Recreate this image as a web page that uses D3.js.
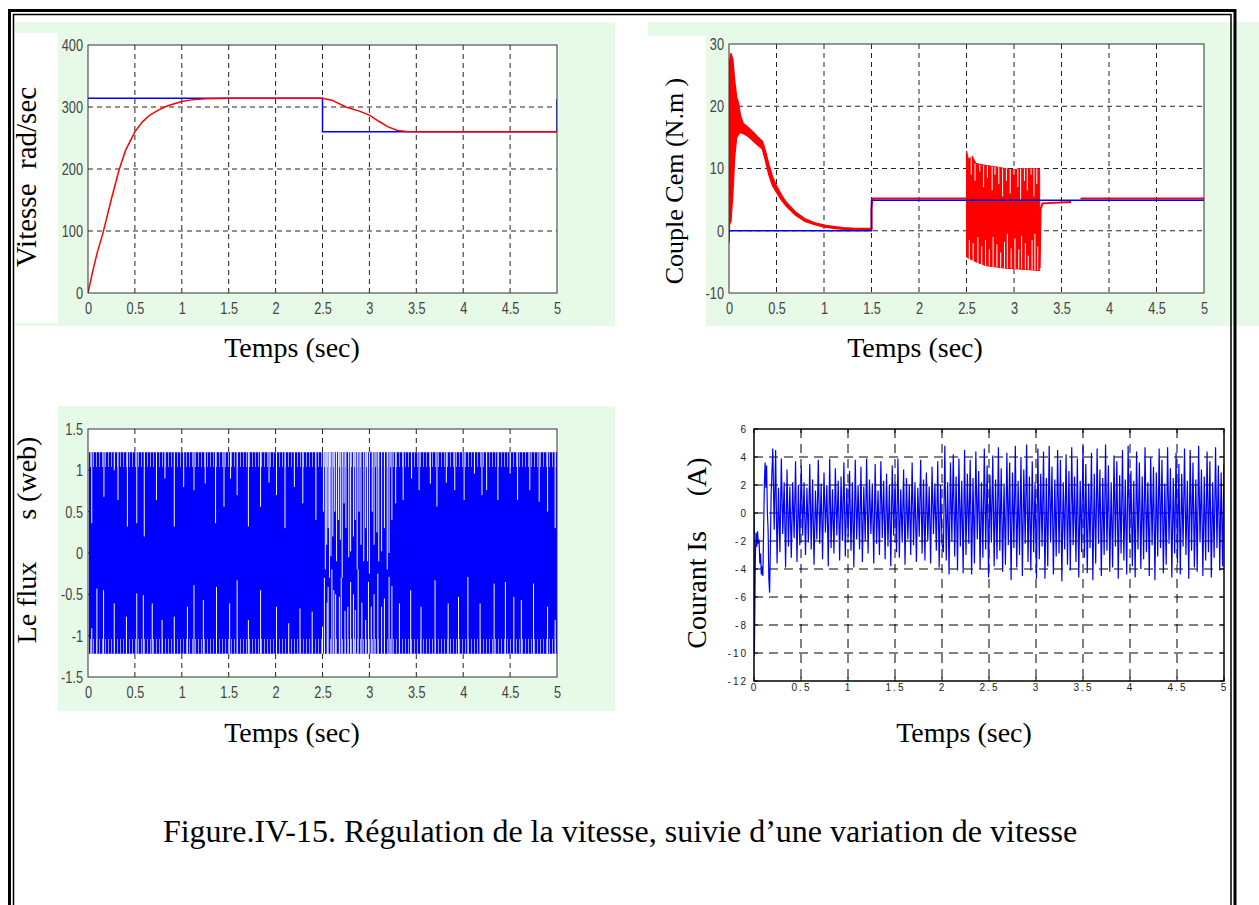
<!DOCTYPE html>
<html>
<head>
<meta charset="utf-8">
<script src="https://cdn.jsdelivr.net/npm/d3@7"></script>
<style>
  body { margin: 0; background: #fff; }
  svg { display: block; }
</style>
</head>
<body>
<svg id="fig" width="1259" height="905"></svg>
<script>
// ---------- data ----------
const timeTicks = [0, 0.5, 1, 1.5, 2, 2.5, 3, 3.5, 4, 4.5, 5];
const speedTicks = [0, 100, 200, 300, 400];
const torqueTicks = [-10, 0, 10, 20, 30];
const fluxTicks = [-1.5, -1, -0.5, 0, 0.5, 1, 1.5];
const currentTicks = [-12, -10, -8, -6, -4, -2, 0, 2, 4, 6];

// speed (rad/sec): reference (blue) and measured (red)
const speedRef = [[0, 314], [2.5, 314], [2.5, 260], [5, 260], [5, 313]];
const speedMeas = [[0, 0], [0.05, 35], [0.1, 66], [0.16, 97], [0.25, 152], [0.33, 198], [0.4, 230],
  [0.5, 260], [0.58, 276], [0.66, 287], [0.75, 295], [0.85, 302], [1.0, 309], [1.1, 311.5],
  [1.25, 313.5], [1.5, 314], [2.5, 314], [2.6, 311], [2.75, 300], [2.9, 293], [3.0, 287],
  [3.1, 277], [3.2, 268], [3.3, 262], [3.4, 260.5], [3.5, 260], [5, 260]];

// torque Cem (N.m): start-up noisy band, later line pieces, burst between 2.5 and 3.27 s
const torqueStartHi = [[0, -2], [0.005, 27], [0.02, 28.5], [0.04, 27.5], [0.06, 24], [0.08, 21.5],
  [0.1, 20.5], [0.12, 18.5], [0.15, 17.2], [0.2, 16.6], [0.25, 15.9], [0.3, 15.1], [0.35, 14.4],
  [0.38, 13], [0.42, 10.6], [0.46, 8.6], [0.5, 7.2], [0.55, 5.8], [0.6, 4.6], [0.7, 3.0],
  [0.8, 1.9], [0.9, 1.3], [1.0, 0.9], [1.1, 0.7], [1.2, 0.5], [1.3, 0.4], [1.5, 0.35]];
const torqueStartLo = [[0, -2], [0.005, 1], [0.02, 1.5], [0.04, 6], [0.06, 12], [0.08, 15],
  [0.1, 15.5], [0.12, 15.8], [0.15, 15.6], [0.2, 15.2], [0.25, 14.5], [0.3, 13.8], [0.35, 13.2],
  [0.38, 11.5], [0.42, 9], [0.46, 7.2], [0.5, 6.2], [0.55, 5], [0.6, 4.0], [0.7, 2.5],
  [0.8, 1.5], [0.9, 1.0], [1.0, 0.6], [1.1, 0.4], [1.2, 0.25], [1.3, 0.15], [1.5, 0.1]];
const torqueLoadStep = [[1.5, 0.3], [1.5, 3.5], [1.51, 5.2], [2.5, 5.2]];
const torqueAfterBurst = [[3.27, -6], [3.28, 3.5], [3.3, 4.4], [3.6, 4.6]];
const torqueEnd = [[3.7, 5.2], [5, 5.2]];
// burst envelope: [t, low, high]
const burstEnvelope = [[2.5, -4.2, 12.8], [2.52, -4.4, 11.5], [2.56, -4.7, 12], [2.6, -5, 10.8],
  [2.7, -5.6, 10.5], [2.8, -5.8, 10.3], [2.9, -6, 10], [3.0, -6.1, 9.8], [3.1, -6.2, 10],
  [3.2, -6.3, 10], [3.27, -6.4, 9.9]];
// visible white gaps inside the burst: [t, from, to]
const burstGaps = [[2.53, -5, -1.5], [2.57, -5, -2], [2.62, -5.2, -1], [2.66, -5.5, -2.5],
  [2.7, -5.6, -1.5], [2.74, -5.6, -3], [2.78, -5.8, -1], [2.82, -5.8, -2.2], [2.86, -5.9, -3.5],
  [2.9, -6, -1.8], [2.93, -6, -0.5], [2.97, -6, -2.8], [3.01, -6.1, -1.2], [3.05, -6.1, -3],
  [3.08, -6.1, -0.8], [3.12, -6.2, -2], [3.15, -6.2, -4], [3.19, -6.3, -1.5], [3.22, -6.3, -0.5],
  [3.25, -6.3, -2.5],
  [2.55, 9, 12], [2.59, 8, 10.8], [2.64, 9.5, 10.6], [2.68, 7, 10.5], [2.72, 8.5, 10.4],
  [2.77, 6.5, 10.3], [2.8, 9, 10.3], [2.84, 7.5, 10.2], [2.88, 5.5, 10], [2.92, 8, 10],
  [2.96, 6, 9.9], [3.0, 9, 9.8], [3.04, 7, 10], [3.07, 5, 10], [3.11, 8, 10], [3.14, 6.5, 10],
  [3.18, 9, 10], [3.21, 5.5, 10], [3.24, 7.5, 10]];
const torqueRef = [[0, 0], [1.5, 0], [1.5, 4.9], [5, 4.9]];

// stator flux (web): oscillation band, lighter striped edges, white notches from top / bottom
const fluxBand = [[0.01, -1.22, 1.22], [5, -1.22, 1.22]];
const fluxStripeZones = [[0.01, 5, 1.04, 1.22], [0.01, 5, -1.22, -1.04]];
const fluxTopNotches = [[0.04, 0.36], [0.17, 0.68], [0.28, 1.0], [0.32, 0.64], [0.42, 0.32],
  [0.52, 0.36], [0.6, 0.2], [0.73, 0.64], [0.82, 0.9], [0.92, 0.32], [1.02, 0.8], [1.13, 0.76],
  [1.25, 0.84], [1.36, 0.36], [1.45, 0.56], [1.52, 0.9], [1.59, 0.7], [1.71, 0.32], [1.84, 0.56],
  [1.93, 0.85], [2.01, 0.7], [2.1, 0.3], [2.2, 0.8], [2.29, 0.6], [2.43, 0.4],
  [2.51, 0.5], [2.53, -0.2], [2.545, 0.1], [2.56, 0.3], [2.575, -0.3], [2.59, -0.04], [2.61, 0.2],
  [2.63, 0.5], [2.65, -0.1], [2.67, 0.4], [2.69, 0.16], [2.71, -0.3], [2.73, 0.6], [2.75, 0.3],
  [2.78, -0.05], [2.8, 0.02], [2.83, 0.2], [2.85, 0.4], [2.87, -0.2], [2.89, 0.5], [2.91, 0.1],
  [2.94, -0.1], [2.96, 0.3], [2.98, -0.1], [3.0, -0.25], [3.03, 0.5], [3.05, 0.1], [3.08, 0.25],
  [3.1, -0.1], [3.13, 0.02], [3.16, 0.3], [3.19, -0.2], [3.21, 0.0], [3.24, 0.4], [3.28, 0.6],
  [3.36, 0.64], [3.45, 0.9], [3.53, 0.76], [3.65, 0.84], [3.72, 0.56], [3.82, 0.85], [3.91, 0.76],
  [4.01, 0.64], [4.12, 0.96], [4.2, 0.7], [4.25, 0.76], [4.37, 0.64], [4.5, 0.96], [4.58, 0.64],
  [4.71, 0.76], [4.81, 0.62], [4.9, 0.5], [4.98, 0.3]];
const fluxBottomNotches = [[0.04, -0.91], [0.095, -0.43], [0.166, -0.45], [0.28, -0.61],
  [0.41, -0.77], [0.52, -0.49], [0.59, -0.51], [0.685, -0.61], [0.79, -0.81], [0.92, -0.77],
  [1.06, -0.65], [1.13, -0.39], [1.23, -0.57], [1.37, -0.41], [1.51, -0.61], [1.59, -0.33],
  [1.71, -0.81], [1.84, -0.45], [2.01, -0.65], [2.14, -0.85], [2.26, -0.67], [2.39, -0.71],
  [2.5, -0.89], [2.52, -0.3], [2.55, -0.6], [2.56, -0.41], [2.6, -0.2], [2.62, -0.45],
  [2.64, -0.5], [2.68, -0.53], [2.7, -0.3], [2.74, -0.7], [2.77, -0.65], [2.8, -0.35],
  [2.83, -0.5], [2.85, -0.69], [2.88, -0.2], [2.92, -0.6], [2.96, -0.81], [2.99, -0.35],
  [3.02, -0.65], [3.05, -0.5], [3.09, -0.25], [3.13, -0.65], [3.16, -0.55], [3.21, -0.29],
  [3.24, -0.4], [3.32, -0.61], [3.44, -0.45], [3.55, -0.65], [3.7, -0.33], [3.84, -0.61],
  [3.95, -0.53], [4.05, -0.29], [4.18, -0.61], [4.33, -0.37], [4.45, -0.35], [4.54, -0.53],
  [4.62, -0.57], [4.75, -0.37], [4.9, -0.65], [4.98, -0.81]];

// stator current (A): start transient, then successive extrema sampled evenly over two spans
const currentStart = [[0, 0], [0.004, -10.2], [0.008, -7.5], [0.014, -3.2], [0.022, -1.4],
  [0.03, -2.4], [0.038, -1.3], [0.046, -2.2], [0.054, -1.9], [0.062, -3.6], [0.07, -2.9],
  [0.078, -4.4], [0.086, -3.8], [0.094, -4.5], [0.1, -2.2], [0.11, 1.9], [0.118, 3.6],
  [0.126, 1.8], [0.134, 3.4], [0.142, 0.1], [0.15, -1.2], [0.158, -4.7], [0.166, -5.7],
  [0.174, -2.5], [0.182, 1.2]];
const currentSpanA = [0.2, 2.0];
const currentA = [4.6, -1.2, 4.5, -3.6, 1.8, -2.8, 3.9, -1.5, 2.2, -3.9, 3.1, -2.4, 1.9, -3.2, 2.2,
  -1.8, 3.7, -3.5, 2.0, -2.3, 3.4, -1.6, 2.2, -3.0, 1.8, -2.1, 3.5, -2.6, 2.4, -3.7, 1.6, -1.9,
  3.8, -2.2, 2.1, -3.3, 2.9, -1.4, 2.0, -3.8, 3.9, -2.5, 1.7, -2.9, 3.2, -1.6, 2.3, -3.4, 2.6,
  -2.0, 3.6, -3.1, 1.8, -1.7, 3.0, -2.7, 2.2, -3.9, 3.8, -1.9, 2.0, -2.6, 3.3, -3.5, 1.9, -2.0,
  3.9, -2.9, 2.4, -1.5, 2.1, -3.6, 3.5, -2.2, 1.6, -3.0, 3.7, -1.8, 2.3, -3.3, 2.8, -2.4, 2.0,
  -3.8, 3.4, -1.6, 2.2, -2.8, 3.9, -3.2, 1.7, -2.1, 3.1, -3.7, 2.5, -1.9, 2.0, -3.0, 3.6, -2.3,
  2.2, -3.5, 1.8, -1.7, 3.8, -2.9, 2.4, -3.4, 2.9, -2.0, 1.9, -3.6, 3.3, -1.5, 2.1, -2.7, 3.7,
  -3.9, 2.0, -2.2];
const currentSpanB = [2.0, 5.0];
const currentB = [4.6, -2.8, 4.8, -3.4, 2.2, -4.4, 3.6, -2.0, 4.2, -3.1, 2.6, -4.1, 3.9, -2.4, 2.3,
  -4.3, 4.5, -3.0, 2.8, -2.2, 3.8, -4.4, 2.5, -3.6, 4.4, -1.9, 3.0, -4.0, 2.2, -3.2, 4.6, -2.6,
  3.4, -4.6, 2.7, -2.1, 4.1, -3.8, 2.4, -3.3, 4.7, -2.7, 3.2, -4.2, 2.1, -3.7, 4.3, -2.3, 3.6,
  -4.8, 2.9, -2.5, 4.8, -3.9, 2.3, -3.0, 4.0, -4.5, 3.1, -2.2, 4.9, -3.5, 2.6, -4.1, 3.7, -2.8,
  2.2, -4.7, 4.6, -3.3, 2.8, -2.4, 4.4, -4.7, 2.5, -3.8, 4.8, -2.1, 3.3, -4.4, 2.4, -3.1, 4.5,
  -2.9, 3.8, -4.9, 2.2, -2.6, 4.2, -3.7, 3.0, -4.1, 4.7, -2.3, 2.6, -3.5, 3.9, -4.6, 2.3, -2.8,
  4.8, -3.2, 3.5, -4.3, 2.1, -2.5, 4.3, -4.8, 2.8, -3.6, 4.6, -2.2, 3.1, -4.5, 2.5, -3.0, 4.9,
  -2.7, 3.4, -4.2, 2.2, -3.9, 4.1, -2.4, 3.7, -4.7, 2.7, -2.9, 4.5, -3.4, 2.4, -4.4, 4.8, -2.1,
  3.0, -3.8, 2.3, -4.6, 4.4, -2.6, 3.6, -4.0, 2.6, -3.3, 4.7, -2.8, 2.2, -4.5, 4.0, -2.3, 3.3,
  -4.8, 2.9, -3.1, 4.6, -2.5, 3.8, -4.3, 2.1, -3.7, 4.7, -2.2, 3.2, -4.6, 2.5, -2.9, 4.3, -3.6,
  3.5, -4.4, 2.8, -2.4, 4.6, -3.0, 2.3, -4.7, 4.5, -2.7, 3.6, -3.9, 2.4, -4.2, 4.8, -2.1, 3.1,
  -4.5, 2.6, -3.4, 4.4, -2.8, 3.7, -4.6, 2.2, -3.2, 4.7, -2.5, 3.4, -4.1, 2.9, -3.8, 3.5];

// ---------- drawing ----------
const svg = d3.select('#fig');
const defs = svg.append('defs');
defs.append('pattern')
    .attr('id', 'stripes')
    .attr('patternUnits', 'userSpaceOnUse')
    .attr('width', 3)
    .attr('height', 8)
  .append('rect')
    .attr('width', 1)
    .attr('height', 8)
    .attr('fill', '#fff')
    .attr('opacity', 0.6);

const GREEN = '#e7f9e7';
const RED = '#ff0000';
const BLUE = '#0000ff';
const SERIF = '"Liberation Serif", "Times New Roman", serif';

// light green panels behind the first three plots, white strips behind y labels
[[15, 22, 600, 304, GREEN], [15, 33, 43, 290, '#fff'],
 [648, 22, 611, 304, GREEN], [648, 36, 58, 290, '#fff'],
 [58, 406, 557, 305, GREEN]].forEach(([x, y, w, h, c]) => {
  svg.append('rect').attr('x', x).attr('y', y).attr('width', w).attr('height', h).attr('fill', c);
});

function makePanel(id, box, yDomain, yTicks, style) {
  const x = d3.scaleLinear().domain([0, 5]).range([box.l, box.r]);
  const y = d3.scaleLinear().domain(yDomain).range([box.b, box.t]);
  const g = svg.append('g');

  g.append('rect')
      .attr('x', box.l).attr('y', box.t)
      .attr('width', box.r - box.l).attr('height', box.b - box.t)
      .attr('fill', '#fff');

  defs.append('clipPath').attr('id', 'clip-' + id)
    .append('rect')
      .attr('x', box.l).attr('y', box.t)
      .attr('width', box.r - box.l).attr('height', box.b - box.t);

  // dashed grid
  const grid = g.append('g')
      .attr('stroke', style.gridColor)
      .attr('stroke-width', 1)
      .attr('stroke-dasharray', style.dash);
  grid.selectAll('line.v').data(timeTicks.slice(1, -1)).join('line')
      .attr('class', 'v')
      .attr('x1', d => x(d)).attr('x2', d => x(d))
      .attr('y1', box.t).attr('y2', box.b);
  grid.selectAll('line.h').data(yTicks.slice(1, -1)).join('line')
      .attr('class', 'h')
      .attr('x1', box.l).attr('x2', box.r)
      .attr('y1', d => y(d)).attr('y2', d => y(d));

  const plot = g.append('g').attr('clip-path', `url(#clip-${id})`);
  return { x, y, g, plot, box, yTicks, style };
}

function finishPanel(p) {
  const { box, style } = p;
  p.g.append('rect')
      .attr('x', box.l).attr('y', box.t)
      .attr('width', box.r - box.l).attr('height', box.b - box.t)
      .attr('fill', 'none')
      .attr('stroke', style.boxColor)
      .attr('stroke-width', style.boxWidth);

  if (style.innerTicks) {
    const t = p.g.append('g').attr('stroke', '#000').attr('stroke-width', 1);
    timeTicks.forEach(d => {
      t.append('line').attr('x1', p.x(d)).attr('x2', p.x(d)).attr('y1', box.t).attr('y2', box.t + 4);
      t.append('line').attr('x1', p.x(d)).attr('x2', p.x(d)).attr('y1', box.b).attr('y2', box.b - 4);
    });
    p.yTicks.forEach(d => {
      t.append('line').attr('x1', box.l).attr('x2', box.l + 4).attr('y1', p.y(d)).attr('y2', p.y(d));
      t.append('line').attr('x1', box.r).attr('x2', box.r - 4).attr('y1', p.y(d)).attr('y2', p.y(d));
    });
  }

  const sx = style.squeeze || 1;
  const xAxis = p.g.append('g')
      .attr('transform', `translate(0,${box.b})`)
      .call(d3.axisBottom(p.x).tickValues(timeTicks).tickSize(0)
        .tickPadding(style.xPad).tickFormat(d => String(d)));
  const yAxis = p.g.append('g')
      .attr('transform', `translate(${box.l},0)`)
      .call(d3.axisLeft(p.y).tickValues(p.yTicks).tickSize(0)
        .tickPadding(style.yPad).tickFormat(d => String(d)));
  [xAxis, yAxis].forEach(a => {
    a.select('.domain').remove();
    a.attr('font-family', style.tickFont)
     .attr('font-size', style.tickSize);
    a.selectAll('text')
     .attr('fill', style.tickColor)
     .attr('transform', `scale(${sx},1)`)
     .style('letter-spacing', style.letterSpacing || '0px');
  });
  // keep the right edge of the y labels at the same gap after squeezing
  yAxis.selectAll('text').attr('x', -style.yPad / sx);
}

function addLabel(text, x, y, size, rotate) {
  svg.append('text')
      .attr('transform', `translate(${x},${y})` + (rotate ? ' rotate(-90)' : ''))
      .attr('text-anchor', 'middle')
      .attr('font-family', SERIF)
      .attr('font-size', size)
      .attr('fill', '#000')
      .style('white-space', 'pre')
      .text(text);
}

const matlabStyle = {
  gridColor: '#222', dash: '5,4', boxColor: '#333', boxWidth: 1,
  xPad: 9, yPad: 5, tickFont: '"Liberation Sans", Arial, sans-serif', tickSize: 17,
  tickColor: '#444', squeeze: 0.75
};

const line = (p) => d3.line().x(d => p.x(d[0])).y(d => p.y(d[1]));
const band = (p, hi, lo) => d3.area()
    .x((d, i) => p.x(hi[i][0]))
    .y1((d, i) => p.y(hi[i][1]))
    .y0((d, i) => p.y(lo[i][1]));

// ---- speed ----
const pSpeed = makePanel('speed', { l: 88, r: 557, t: 45, b: 293 }, [0, 400], speedTicks, matlabStyle);
pSpeed.plot.append('path').datum(speedRef)
    .attr('d', line(pSpeed)).attr('fill', 'none').attr('stroke', BLUE).attr('stroke-width', 1.5);
pSpeed.plot.append('path').datum(speedMeas)
    .attr('d', line(pSpeed)).attr('fill', 'none').attr('stroke', RED).attr('stroke-width', 1.5);
finishPanel(pSpeed);

// ---- torque ----
const pTorque = makePanel('torque', { l: 729, r: 1204, t: 44, b: 293 }, [-10, 30], torqueTicks, matlabStyle);
pTorque.plot.append('path').datum(torqueStartHi)
    .attr('d', band(pTorque, torqueStartHi, torqueStartLo))
    .attr('fill', RED).attr('stroke', RED).attr('stroke-width', 1.5);
pTorque.plot.append('path').datum(burstEnvelope)
    .attr('d', d3.area().x(d => pTorque.x(d[0])).y0(d => pTorque.y(d[1])).y1(d => pTorque.y(d[2])))
    .attr('fill', RED).attr('stroke', RED).attr('stroke-width', 1);
pTorque.plot.selectAll('line.gap').data(burstGaps).join('line')
    .attr('class', 'gap')
    .attr('x1', d => pTorque.x(d[0])).attr('x2', d => pTorque.x(d[0]))
    .attr('y1', d => pTorque.y(d[1])).attr('y2', d => pTorque.y(d[2]))
    .attr('stroke', '#fff').attr('stroke-width', 1);
[torqueLoadStep, torqueAfterBurst, torqueEnd].forEach(s => {
  pTorque.plot.append('path').datum(s)
      .attr('d', line(pTorque)).attr('fill', 'none').attr('stroke', RED).attr('stroke-width', 2);
});
pTorque.plot.append('path').datum(torqueRef)
    .attr('d', line(pTorque)).attr('fill', 'none').attr('stroke', BLUE).attr('stroke-width', 1.5);
finishPanel(pTorque);

// ---- flux ----
const pFlux = makePanel('flux', { l: 88, r: 557, t: 429, b: 677 }, [-1.5, 1.5], fluxTicks, matlabStyle);
pFlux.plot.append('path').datum(fluxBand)
    .attr('d', d3.area().x(d => pFlux.x(d[0])).y0(d => pFlux.y(d[1])).y1(d => pFlux.y(d[2])))
    .attr('fill', BLUE);
pFlux.plot.selectAll('rect.zone').data(fluxStripeZones).join('rect')
    .attr('class', 'zone')
    .attr('x', d => pFlux.x(d[0])).attr('width', d => pFlux.x(d[1]) - pFlux.x(d[0]))
    .attr('y', d => pFlux.y(d[3])).attr('height', d => pFlux.y(d[2]) - pFlux.y(d[3]))
    .attr('fill', 'url(#stripes)');
pFlux.plot.selectAll('line.top').data(fluxTopNotches).join('line')
    .attr('class', 'top')
    .attr('x1', d => pFlux.x(d[0])).attr('x2', d => pFlux.x(d[0]))
    .attr('y1', pFlux.y(1.22)).attr('y2', d => pFlux.y(d[1]))
    .attr('stroke', '#f4f6ff').attr('stroke-width', 1);
pFlux.plot.selectAll('line.bot').data(fluxBottomNotches).join('line')
    .attr('class', 'bot')
    .attr('x1', d => pFlux.x(d[0])).attr('x2', d => pFlux.x(d[0]))
    .attr('y1', pFlux.y(-1.22)).attr('y2', d => pFlux.y(d[1]))
    .attr('stroke', '#f4f6ff').attr('stroke-width', 1);
finishPanel(pFlux);

// ---- current ----
const smallStyle = {
  gridColor: '#000', dash: '9,6', boxColor: '#000', boxWidth: 1.5, innerTicks: true,
  xPad: 3, yPad: 6, tickFont: '"Liberation Sans", Arial, sans-serif', tickSize: 10,
  tickColor: '#222', letterSpacing: '2px'
};
const pCur = makePanel('current', { l: 754, r: 1224, t: 429, b: 681 }, [-12, 6], currentTicks, smallStyle);
const spanPoints = (span, vals) => vals.map((v, i) =>
  [span[0] + (span[1] - span[0]) * i / (vals.length - 1), v]);
const currentSeries = currentStart
  .concat(spanPoints(currentSpanA, currentA))
  .concat(spanPoints(currentSpanB, currentB).slice(1));
pCur.plot.append('path').datum(currentSeries)
    .attr('d', line(pCur)).attr('fill', 'none').attr('stroke', BLUE).attr('stroke-width', 1.2);
finishPanel(pCur);

// ---- axis labels ----
addLabel('Vitesse  rad/sec', 36, 177, 29, true);
addLabel('Couple Cem (N.m )', 683, 181, 26, true);
addLabel('Le flux      s (web)', 36, 540, 28, true);
addLabel('Courant Is     (A)', 706, 553, 28, true);
addLabel('Temps (sec)', 292, 357, 28, false);
addLabel('Temps (sec)', 915, 357, 28, false);
addLabel('Temps (sec)', 292, 742, 28, false);
addLabel('Temps (sec)', 964, 742, 28, false);
addLabel('Figure.IV-15. Régulation de la vitesse, suivie d’une variation de vitesse', 620, 842, 32, false);

// ---- double frame (open at the bottom) ----
svg.append('path')
    .attr('d', 'M9.5,905V10.5H1235V905')
    .attr('fill', 'none').attr('stroke', '#000').attr('stroke-width', 3);
svg.append('path')
    .attr('d', 'M13.5,905V14.5H1231V905')
    .attr('fill', 'none').attr('stroke', '#000').attr('stroke-width', 1.5);
</script>
</body>
</html>
